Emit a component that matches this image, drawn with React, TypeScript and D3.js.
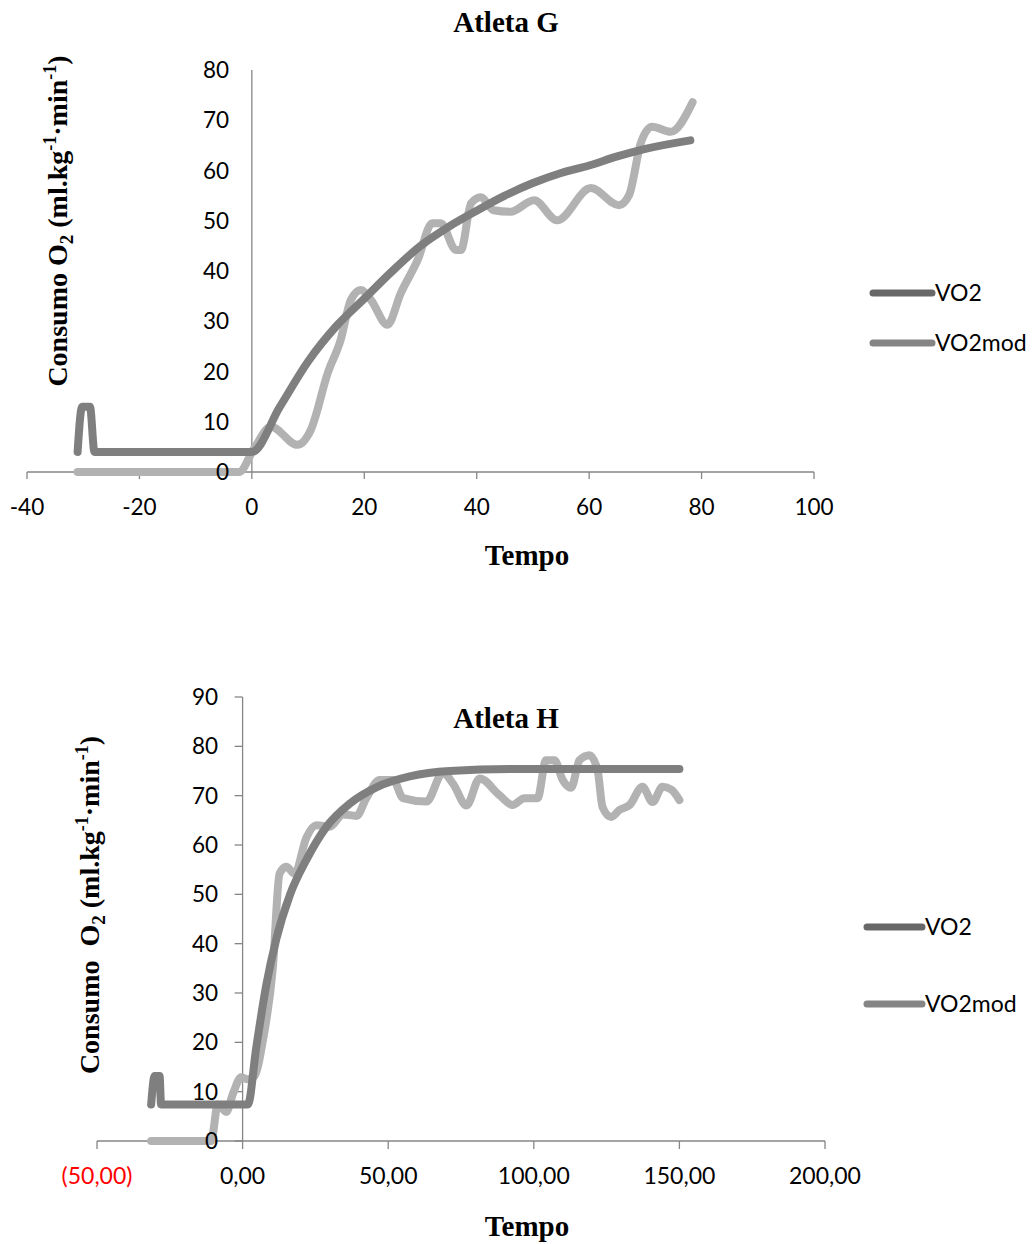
import React from 'react'
import * as d3 from 'd3'

// Atleta G
const gTicksX = [-40, -20, 0, 20, 40, 60, 80, 100]
const gTicksY = [0, 10, 20, 30, 40, 50, 60, 70, 80]
const gFitT = [-31, -30.2, -28.8, -28, 0, 5, 10, 15, 20, 25, 30, 35, 40, 45, 50, 55, 60, 65, 70, 78]
const gFitV = [4, 13, 13, 4, 4, 13, 22, 29, 34.5, 40, 45, 48.8, 52, 55, 57.5, 59.5, 61, 62.8, 64.3, 66]
const gDataT = [-31, -2.3, 0.4, 3.4, 8.1, 10.5, 13.5, 15.8, 17.6, 19.4, 21.2, 24.1, 26.5, 29.5, 32.1, 33.6, 36.3, 37.2, 39, 40.7, 43, 46, 50.2, 54.3, 60.3, 65.3, 67.1, 69.2, 71.2, 74.5, 78.4]
const gDataV = [0, 0, 4.7, 9, 5.4, 8.4, 19.7, 26.3, 34.2, 36.2, 34.2, 29.3, 35.6, 42.2, 49.5, 49.5, 44.2, 44.2, 53.5, 54.7, 52.1, 51.8, 54.1, 50.1, 56.5, 53.1, 55.1, 65.5, 68.7, 67.7, 73.6]

// Atleta H
const hTicksX = [-50, 0, 50, 100, 150, 200]
const hTickLabels = ['(50,00)', '0,00', '50,00', '100,00', '150,00', '200,00']
const hTicksY = [0, 10, 20, 30, 40, 50, 60, 70, 80, 90]
const hFitT = [-31.4, -30.2, -28.5, -28, 1.8, 4.7, 8.1, 11.6, 16.2, 21.9, 28.8, 36.8, 45.9, 57.4, 71.1, 95.2, 120, 150]
const hFitV = [7.4, 13.2, 13.2, 7.4, 7.4, 19, 31.5, 41, 49.8, 57, 63.7, 68.4, 71.7, 73.9, 75, 75.4, 75.4, 75.4]
const hDataT = [-31.4, -10.8, -8.5, -5.6, -3.3, -0.5, 1.8, 4.1, 7, 10.4, 12.7, 15, 17.9, 21.9, 25.3, 29.9, 34.5, 39.1, 42.5, 47.1, 51.7, 55.1, 63.1, 68.8, 72.3, 76.9, 81.4, 88.2, 92.7, 96.8, 101.3, 104.2, 107.1, 109.9, 112.8, 115.7, 119.1, 121.9, 123.6, 126.6, 129.4, 132.9, 137.3, 140.8, 144.2, 147.3, 150]
const hDataV = [0, 0, 7.4, 5.9, 9.6, 12.9, 12.5, 13.2, 20.5, 35.2, 54.2, 55.6, 54.2, 61.5, 64, 63.7, 66.2, 65.9, 69.5, 73.2, 73.2, 69.5, 68.8, 74.6, 72.4, 68, 73.5, 70.1, 68.1, 69.5, 69.5, 77.2, 77.2, 73.2, 71.6, 77.2, 78.2, 75.2, 67.7, 65.7, 67.1, 68.1, 71.8, 68.7, 71.8, 71.2, 69.1]

const legendNames = ['VO2', 'VO2mod']

const SANS = 'Lato, "Open Sans", sans-serif'
const SERIF = '"Liberation Serif", "Times New Roman", serif'
const AXIS = '#868686'
const FIT = '#7f7f7f'
const DATA = '#b2b2b2'
const LEG = ['#686868', '#858585']

function path(xs, ys, t, v) {
  return d3.line<number>()
    .x((d, i) => xs(t[i]))
    .y(d => ys(d))
    .curve(d3.curveMonotoneX)(v)
}

function YTitle({ x, y, gap }) {
  return (
    <text transform={`translate(${x},${y}) rotate(-90)`} textAnchor="middle"
      fontFamily={SERIF} fontWeight="bold" fontSize={28}>
      {'Consumo' + gap + 'O'}
      <tspan fontSize={19} dy={6}>2</tspan>
      <tspan dy={-6}> (ml.kg</tspan>
      <tspan fontSize={18} dy={-11}>-1</tspan>
      <tspan dy={11}>·min</tspan>
      <tspan fontSize={18} dy={-11}>-1</tspan>
      <tspan dy={11}>)</tspan>
    </text>
  )
}

function Legend({ x1, x2, ys }) {
  return (
    <g>
      {legendNames.map((n, i) => (
        <g key={n}>
          <line x1={x1} x2={x2} y1={ys[i]} y2={ys[i]} stroke={LEG[i]} strokeWidth={7} strokeLinecap="round" />
          <text x={x2 + 3} y={ys[i] + 8} fontFamily={SANS} fontSize={23}>{n}</text>
        </g>
      ))}
    </g>
  )
}

function ChartG() {
  const x = d3.scaleLinear().domain([-40, 100]).range([27, 814])
  const y = d3.scaleLinear().domain([0, 80]).range([472, 70])
  return (
    <g>
      <text x={506} y={32} textAnchor="middle" fontFamily={SERIF} fontWeight="bold" fontSize={29}>Atleta G</text>
      <line x1={x(-40)} x2={x(100)} y1={y(0)} y2={y(0)} stroke={AXIS} strokeWidth={1.3} />
      <line x1={x(0)} x2={x(0)} y1={y(0)} y2={y(80)} stroke={AXIS} strokeWidth={1.3} />
      {gTicksX.map(t => (
        <line key={t} x1={x(t)} x2={x(t)} y1={y(0)} y2={y(0) + 7} stroke={AXIS} strokeWidth={1.3} />
      ))}
      <path d={path(x, y, gDataT, gDataV)} fill="none" stroke={DATA} strokeWidth={8} strokeLinecap="round" strokeLinejoin="round" />
      <path d={path(x, y, gFitT, gFitV)} fill="none" stroke={FIT} strokeWidth={8} strokeLinecap="round" strokeLinejoin="round" />
      {gTicksX.map(t => (
        <text key={t} x={x(t)} y={515} textAnchor="middle" fontFamily={SANS} fontSize={22.5}>{t}</text>
      ))}
      {gTicksY.map(t => (
        <text key={t} x={229} y={y(t) + 8} textAnchor="end" fontFamily={SANS} fontSize={22.5}>{t}</text>
      ))}
      <text x={527} y={565} textAnchor="middle" fontFamily={SERIF} fontWeight="bold" fontSize={29}>Tempo</text>
      <YTitle x={67} y={221} gap=" " />
      <Legend x1={873} x2={932} ys={[293, 343]} />
    </g>
  )
}

function ChartH() {
  const x = d3.scaleLinear().domain([-50, 200]).range([97, 825])
  const y = d3.scaleLinear().domain([0, 90]).range([1141, 697])
  return (
    <g>
      <line x1={x(-50)} x2={x(200)} y1={y(0)} y2={y(0)} stroke={AXIS} strokeWidth={1.3} />
      <line x1={x(0)} x2={x(0)} y1={y(0)} y2={y(90)} stroke={AXIS} strokeWidth={1.3} />
      {hTicksX.map(t => (
        <line key={t} x1={x(t)} x2={x(t)} y1={y(0)} y2={y(0) + 8} stroke={AXIS} strokeWidth={1.3} />
      ))}
      {hTicksY.map(t => (
        <line key={t} x1={x(0) - 8} x2={x(0)} y1={y(t)} y2={y(t)} stroke={AXIS} strokeWidth={1.3} />
      ))}
      <path d={path(x, y, hDataT, hDataV)} fill="none" stroke={DATA} strokeWidth={8} strokeLinecap="round" strokeLinejoin="round" />
      <path d={path(x, y, hFitT, hFitV)} fill="none" stroke={FIT} strokeWidth={8} strokeLinecap="round" strokeLinejoin="round" />
      {hTicksX.map((t, i) => (
        <text key={t} x={x(t)} y={1184} textAnchor="middle" fontFamily={SANS} fontSize={23}
          fill={i === 0 ? '#ff0000' : '#000'}>{hTickLabels[i]}</text>
      ))}
      {hTicksY.map(t => (
        <text key={t} x={218} y={y(t) + 8} textAnchor="end" fontFamily={SANS} fontSize={22.5}>{t}</text>
      ))}
      <text x={506} y={728} textAnchor="middle" fontFamily={SERIF} fontWeight="bold" fontSize={29}>Atleta H</text>
      <text x={527} y={1236} textAnchor="middle" fontFamily={SERIF} fontWeight="bold" fontSize={29}>Tempo</text>
      <YTitle x={99} y={905} gap={'\u00a0\u00a0'} />
      <Legend x1={867} x2={922} ys={[927, 1004]} />
    </g>
  )
}

export default function App() {
  return (
    <svg width={1033} height={1244} style={{ position: 'absolute', left: 0, top: 0, background: '#fff' }}>
      <rect width={1033} height={1244} fill="#fff" />
      <ChartG />
      <ChartH />
    </svg>
  )
}
